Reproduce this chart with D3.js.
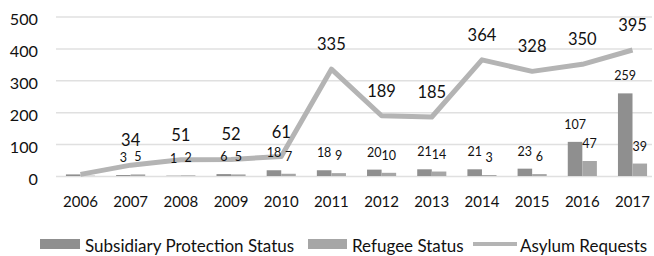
<!DOCTYPE html>
<html>
<head>
<meta charset="utf-8">
<script src="https://cdn.jsdelivr.net/npm/d3@7"></script>
<style>
  html, body { margin: 0; padding: 0; background: #fff; }
  svg { display: block; font-family: Lato, "Open Sans", sans-serif; }
</style>
</head>
<body>
<svg id="chart" width="654" height="256"></svg>
<script>
// ---- data ----
const years = ["2006","2007","2008","2009","2010","2011","2012","2013","2014","2015","2016","2017"];
const subsidiary = [5, 3, 1, 6, 18, 18, 20, 21, 21, 23, 107, 259];
const refugee    = [1, 5, 2, 5, 7, 9, 10, 14, 3, 6, 47, 39];
const asylum     = [5, 34, 51, 52, 61, 335, 189, 185, 364, 328, 350, 395];
const yTicks = [0, 100, 200, 300, 400, 500];
const unlabeledYears = ["2006"];
const seriesNames = ["Subsidiary Protection Status", "Refugee Status", "Asylum Requests"];

// ---- styles ----
const colDark = "#8f8f8f", colLight = "#a6a6a6", colLine = "#b4b4b4", colGrid = "#e0e0e0", colText = "#111";

const svg = d3.select("#chart");

const x = d3.scaleBand().domain(years).range([55.4, 657.6]).paddingInner(0.42).paddingOuter(0.21);
const sub = d3.scaleBand().domain(["s", "r"]).range([0, x.bandwidth()]);
const y = d3.scaleLinear().domain([0, 500]).range([176, 16.5]);

// gridlines + y axis labels
const gridLeft = 56, gridRight = 652;
const yAxis = svg.append("g")
  .attr("transform", `translate(${gridLeft},0)`)
  .call(d3.axisLeft(y).tickValues(yTicks).tickSize(-(gridRight - gridLeft)).tickPadding(18));
yAxis.select(".domain").remove();
yAxis.selectAll(".tick line").attr("stroke", colGrid).attr("stroke-width", 1.5);
yAxis.selectAll(".tick text")
  .attr("dy", "8px").attr("fill", colText)
  .style("font-size", "16.2px").style("font-family", "Lato, sans-serif");

// x axis labels
const xAxis = svg.append("g")
  .attr("transform", `translate(0,206.5)`)
  .call(d3.axisBottom(x).tickSize(0).tickPadding(0));
xAxis.select(".domain").remove();
xAxis.selectAll(".tick text")
  .attr("y", 0).attr("dy", null).attr("fill", colText)
  .style("font-size", "15px").style("font-family", "Lato, sans-serif");

// bars
const rows = years.map((yr, i) => ({ year: yr, s: subsidiary[i], r: refugee[i], a: asylum[i] }));
const groups = svg.append("g").selectAll("g").data(rows).join("g")
  .attr("transform", d => `translate(${x(d.year)},0)`);

groups.append("rect")
  .attr("x", sub("s")).attr("width", sub.bandwidth())
  .attr("y", d => y(d.s)).attr("height", d => y(0) - y(d.s))
  .attr("fill", colDark);
groups.append("rect")
  .attr("x", sub("r")).attr("width", sub.bandwidth())
  .attr("y", d => y(d.r)).attr("height", d => y(0) - y(d.r))
  .attr("fill", colLight);

// line
const line = d3.line().x(d => x(d.year) + x.bandwidth() / 2).y(d => y(d.a));
svg.append("path").datum(rows)
  .attr("d", line).attr("fill", "none")
  .attr("stroke", colLine).attr("stroke-width", 5)
  .attr("stroke-linejoin", "round").attr("stroke-linecap", "butt");

// bar labels
const labelled = rows.filter(d => !unlabeledYears.includes(d.year));
const barLab = svg.append("g").style("font-size", "12.5px").attr("fill", colText).attr("text-anchor", "middle");
barLab.selectAll("text.s").data(labelled).join("text").attr("class", "s")
  .attr("x", d => x(d.year) + sub("s") + sub.bandwidth() / 2)
  .attr("y", d => y(d.s) - 13)
  .text(d => d.s);
barLab.selectAll("text.r").data(labelled).join("text").attr("class", "r")
  .attr("x", d => x(d.year) + sub("r") + sub.bandwidth() / 2)
  .attr("y", d => y(d.r) - 13)
  .text(d => d.r);

// line labels
svg.append("g").style("font-size", "16.5px").attr("fill", colText).attr("text-anchor", "middle")
  .selectAll("text").data(labelled).join("text")
  .attr("x", d => x(d.year) + x.bandwidth() / 2)
  .attr("y", d => y(d.a) - 19)
  .text(d => d.a);

// legend
const leg = svg.append("g").style("font-size", "17px").attr("fill", colText);
const legItems = [
  { name: seriesNames[0], type: "rect", color: colDark, x0: 40, x1: 80, tx: 85 },
  { name: seriesNames[1], type: "rect", color: colLight, x0: 308, x1: 347, tx: 352 },
  { name: seriesNames[2], type: "line", color: colLine, x0: 473, x1: 517, tx: 520 }
];
legItems.forEach(it => {
  if (it.type === "rect") {
    leg.append("rect").attr("x", it.x0).attr("y", 239).attr("width", it.x1 - it.x0).attr("height", 10).attr("fill", it.color);
  } else {
    leg.append("line").attr("x1", it.x0).attr("x2", it.x1).attr("y1", 244).attr("y2", 244)
      .attr("stroke", it.color).attr("stroke-width", 4);
  }
  leg.append("text").attr("x", it.tx).attr("y", 251.5).text(it.name);
});
</script>
</body>
</html>
